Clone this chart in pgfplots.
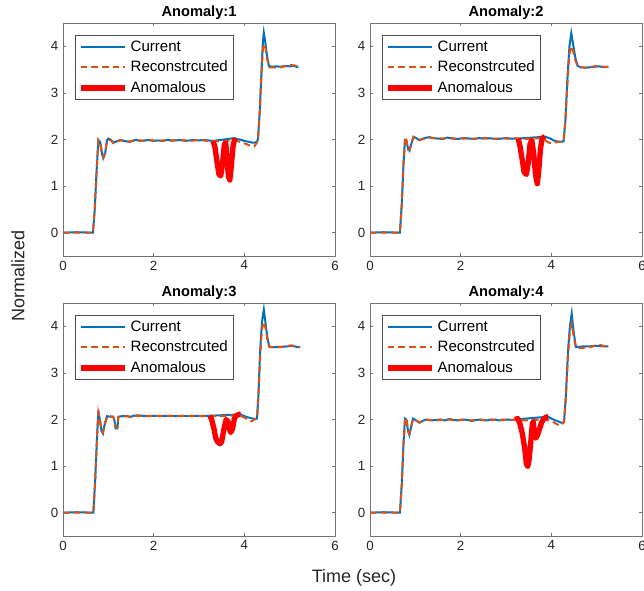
\documentclass[border=0pt]{standalone}
\usepackage{pgfplots}
\pgfplotsset{compat=1.18}
\usepackage{pgfplotstable}
\usepackage{fontspec}
\setmainfont{Liberation Sans}

\definecolor{mblue}{rgb}{0,0.447,0.741}
\definecolor{morange}{rgb}{0.851,0.325,0.098}
\definecolor{mred}{rgb}{1,0,0}

% ---------- panel 1 ----------
\pgfplotstableread{
x y
0 0
0.30 0.01
0.66 0
0.70 0.5
0.74 1.3
0.78 1.98
0.82 1.95
0.86 1.70
0.89 1.60
0.93 1.70
0.97 1.98
1.00 2.02
1.05 2.00
1.11 1.93
1.18 1.96
1.26 1.99
1.33 1.97
1.40 1.96
1.48 1.95
1.55 1.98
1.62 1.99
1.70 1.97
1.80 1.98
1.90 1.99
2.00 1.97
2.10 1.98
2.20 1.97
2.30 1.99
2.40 1.98
2.50 1.98
2.60 1.99
2.70 1.97
2.80 1.98
2.90 1.99
3.00 1.98
3.10 1.99
3.20 1.98
3.31 1.97
3.79 2.03
3.82 2.01
3.90 2.00
4.00 1.97
4.10 1.95
4.19 1.93
4.27 1.94
4.30 2.00
4.34 2.60
4.38 3.50
4.41 4.10
4.43 4.29
4.46 4.10
4.50 3.80
4.54 3.58
4.60 3.56
4.70 3.57
4.80 3.56
4.90 3.58
5.00 3.57
5.10 3.58
5.15 3.56
5.19 3.56
}\curA
\pgfplotstableread{
x y
0 0
0.30 0.0
0.66 0
0.70 0.5
0.74 1.3
0.78 1.99
0.82 1.93
0.86 1.68
0.89 1.62
0.93 1.72
0.97 1.97
1.00 2.00
1.05 1.99
1.11 1.92
1.18 1.95
1.26 1.98
1.33 1.98
1.40 1.95
1.48 1.96
1.55 1.97
1.62 1.98
1.70 1.98
1.80 1.97
1.90 1.98
2.00 1.98
2.10 1.97
2.20 1.98
2.30 1.98
2.40 1.97
2.50 1.99
2.60 1.98
2.70 1.98
2.80 1.97
2.90 1.98
3.00 1.99
3.10 1.98
3.20 1.97
3.31 1.97
3.45 1.96
3.60 1.97
3.75 1.98
3.85 1.97
3.95 1.93
4.05 1.90
4.15 1.86
4.22 1.85
4.30 1.97
4.34 2.60
4.38 3.45
4.41 3.95
4.44 4.05
4.47 3.95
4.50 3.75
4.55 3.55
4.62 3.55
4.70 3.54
4.80 3.55
4.90 3.57
5.00 3.60
5.10 3.59
5.19 3.56
}\recA
\pgfplotstableread{
x y
3.31 1.96
3.35 1.85
3.40 1.50
3.44 1.25
3.48 1.22
3.52 1.50
3.56 1.90
3.59 1.93
3.62 1.55
3.65 1.20
3.68 1.13
3.71 1.40
3.75 1.85
3.79 2.03
}\anoA

% ---------- panel 2 ----------
\pgfplotstableread{
x y
0 0
0.30 0.01
0.66 0
0.70 0.6
0.74 1.5
0.77 1.99
0.80 1.98
0.84 1.80
0.87 1.76
0.91 1.90
0.96 2.06
1.02 2.03
1.09 1.99
1.20 2.03
1.31 2.05
1.40 2.03
1.50 2.02
1.60 2.01
1.70 2.04
1.80 2.03
1.90 2.01
2.00 2.02
2.10 2.03
2.20 2.02
2.30 2.01
2.40 2.03
2.50 2.02
2.60 2.03
2.70 2.02
2.80 2.01
2.90 2.02
3.00 2.03
3.10 2.02
3.20 2.02
3.27 2.02
3.86 2.06
3.92 2.04
3.98 2.02
4.05 1.98
4.12 1.96
4.20 1.95
4.27 1.96
4.31 2.40
4.36 3.40
4.40 4.00
4.44 4.28
4.48 4.05
4.53 3.75
4.58 3.58
4.65 3.55
4.75 3.54
4.85 3.55
4.95 3.56
5.05 3.57
5.15 3.55
5.26 3.56
}\curB
\pgfplotstableread{
x y
0 0
0.30 0.0
0.66 0
0.70 0.6
0.74 1.5
0.78 2.06
0.81 1.96
0.84 1.78
0.87 1.78
0.91 1.92
0.96 2.05
1.02 2.02
1.09 1.98
1.20 2.02
1.31 2.04
1.40 2.03
1.50 2.03
1.60 2.02
1.70 2.03
1.80 2.02
1.90 2.02
2.00 2.03
2.10 2.02
2.20 2.01
2.30 2.02
2.40 2.02
2.50 2.03
2.60 2.02
2.70 2.01
2.80 2.02
2.90 2.03
3.00 2.02
3.10 2.02
3.20 2.03
3.27 2.02
3.40 2.01
3.60 2.02
3.80 2.03
3.88 1.97
3.95 1.93
4.05 1.92
4.12 1.95
4.20 1.95
4.27 1.96
4.31 2.40
4.36 3.30
4.40 3.85
4.44 4.00
4.48 3.90
4.53 3.70
4.58 3.58
4.65 3.55
4.75 3.54
4.85 3.55
4.95 3.57
5.05 3.58
5.15 3.56
5.26 3.56
}\recB
\pgfplotstableread{
x y
3.27 2.02
3.31 1.85
3.36 1.55
3.40 1.30
3.45 1.25
3.49 1.50
3.53 1.90
3.57 1.99
3.61 1.70
3.65 1.25
3.69 1.05
3.72 1.30
3.76 1.80
3.80 2.03
3.86 2.06
}\anoB

% ---------- panel 3 ----------
\pgfplotstableread{
x y
0 0
0.30 0.01
0.67 0
0.71 0.7
0.75 1.6
0.78 2.20
0.81 2.00
0.85 1.75
0.88 1.70
0.92 1.90
0.97 2.07
1.04 2.06
1.11 2.06
1.14 1.95
1.16 1.81
1.20 1.81
1.22 2.06
1.30 2.07
1.40 2.08
1.48 2.05
1.55 2.08
1.65 2.09
1.75 2.08
1.85 2.07
1.95 2.08
2.05 2.08
2.15 2.07
2.25 2.08
2.35 2.08
2.45 2.07
2.55 2.08
2.65 2.08
2.75 2.07
2.85 2.08
2.95 2.08
3.05 2.07
3.15 2.08
3.24 2.08
3.92 2.11
3.98 2.08
4.06 2.05
4.15 2.03
4.22 2.01
4.28 2.02
4.31 2.50
4.35 3.50
4.39 4.10
4.43 4.36
4.47 4.05
4.51 3.75
4.55 3.56
4.65 3.55
4.75 3.56
4.85 3.56
4.95 3.57
5.05 3.58
5.15 3.56
5.23 3.55
}\curC
\pgfplotstableread{
x y
0 0
0.30 0.0
0.67 0
0.71 0.7
0.75 1.6
0.78 2.15
0.81 2.02
0.85 1.78
0.88 1.72
0.92 1.88
0.97 2.06
1.04 2.07
1.11 2.05
1.14 1.96
1.16 1.83
1.20 1.83
1.22 2.05
1.30 2.06
1.40 2.07
1.48 2.06
1.55 2.07
1.65 2.08
1.75 2.08
1.85 2.08
1.95 2.07
2.05 2.08
2.15 2.08
2.25 2.07
2.35 2.08
2.45 2.08
2.55 2.07
2.65 2.08
2.75 2.08
2.85 2.07
2.95 2.08
3.05 2.08
3.15 2.07
3.24 2.08
3.40 2.07
3.60 2.08
3.80 2.09
3.92 2.08
4.00 2.04
4.10 1.99
4.16 1.96
4.22 2.00
4.28 2.02
4.31 2.50
4.35 3.40
4.39 3.95
4.43 4.10
4.47 3.95
4.51 3.72
4.55 3.56
4.65 3.55
4.75 3.55
4.85 3.56
4.95 3.58
5.05 3.59
5.15 3.57
5.23 3.55
}\recC
\pgfplotstableread{
x y
3.24 2.08
3.28 2.00
3.33 1.80
3.37 1.60
3.41 1.52
3.46 1.48
3.50 1.52
3.55 1.80
3.60 2.00
3.64 1.95
3.67 1.80
3.70 1.72
3.74 1.80
3.78 2.02
3.82 2.08
3.88 2.11
3.92 2.11
}\anoC

% ---------- panel 4 ----------
\pgfplotstableread{
x y
0 0
0.30 0.01
0.66 0
0.70 0.6
0.74 1.5
0.77 2.02
0.80 2.00
0.84 1.75
0.87 1.67
0.91 1.85
0.95 2.02
1.02 1.98
1.09 1.93
1.16 1.97
1.24 2.00
1.35 1.98
1.45 1.99
1.55 2.00
1.65 1.98
1.75 2.01
1.85 1.99
1.95 1.98
2.05 2.00
2.15 1.99
2.25 1.97
2.35 1.99
2.45 2.00
2.55 1.98
2.65 1.99
2.75 2.00
2.85 1.98
2.95 1.99
3.05 2.00
3.12 1.99
3.20 2.00
3.93 2.06
3.98 2.03
4.07 1.99
4.15 1.96
4.22 1.93
4.28 1.94
4.32 2.50
4.37 3.50
4.41 4.00
4.45 4.27
4.49 3.90
4.54 3.56
4.62 3.56
4.72 3.57
4.85 3.57
4.95 3.58
5.05 3.58
5.15 3.57
5.26 3.57
}\curD
\pgfplotstableread{
x y
0 0
0.30 0.0
0.66 0
0.70 0.6
0.74 1.5
0.78 2.04
0.81 1.98
0.84 1.74
0.87 1.70
0.91 1.86
0.95 2.01
1.02 1.97
1.09 1.94
1.16 1.96
1.24 1.99
1.35 1.99
1.45 1.98
1.55 1.99
1.65 1.99
1.75 2.00
1.85 1.98
1.95 1.99
2.05 1.99
2.15 1.98
2.25 1.98
2.35 2.00
2.45 1.99
2.55 1.98
2.65 2.00
2.75 1.99
2.85 1.99
2.95 2.00
3.05 1.99
3.12 1.99
3.20 2.00
3.40 1.98
3.60 1.99
3.80 2.00
3.95 1.98
4.05 1.94
4.12 1.90
4.20 1.87
4.28 1.94
4.32 2.45
4.37 3.40
4.41 3.90
4.45 4.05
4.49 3.80
4.54 3.55
4.62 3.53
4.72 3.54
4.85 3.55
4.95 3.58
5.05 3.61
5.15 3.58
5.26 3.57
}\recD
\pgfplotstableread{
x y
3.20 2.00
3.26 2.02
3.31 1.90
3.36 1.70
3.41 1.40
3.45 1.05
3.48 0.99
3.51 1.15
3.55 1.55
3.58 1.90
3.60 1.95
3.63 1.70
3.66 1.60
3.70 1.68
3.74 1.80
3.78 1.92
3.82 2.00
3.88 2.05
3.93 2.06
}\anoD

\pgfplotsset{
  every axis title/.style={
    at={(0.5,1)}, anchor=base, yshift=4.5pt, inner sep=0pt,
    font=\bfseries\fontsize{11}{13}\selectfont},
  panel/.style={
    scale only axis,
    width=204pt, height=174.75pt,
    xmin=0, xmax=6, ymin=-0.5, ymax=4.5,
    xtick={0,2,4,6}, ytick={0,1,2,3,4},
    tick align=inside,
    major tick length=2.5pt,
    axis line style={draw=black!55, line width=0.5pt},
    tick style={draw=black!55, line width=0.5pt},
    /pgf/number format/assume math mode=true,
    ticklabel style={font=\fontsize{10}{12}\selectfont, text=black!85},
    legend style={
      at={(0.044,0.948)}, anchor=north west,
      draw=black!70, line width=0.5pt,
      font=\fontsize{11.3}{13}\selectfont,
      inner xsep=2pt, inner ysep=2pt,
      row sep=1.75pt,
      cells={anchor=west},
    },
    legend image code/.code={\draw[line cap=butt, ##1] (0pt,0pt) -- (33.5pt,0pt);},
  },
  cur/.style={mblue, line width=1.5pt},
  rec/.style={morange, line width=1.5pt, dash pattern=on 5pt off 3pt},
  ano/.style={mred, line width=4pt, line join=round},
}

\begin{document}
\begin{tikzpicture}
\useasboundingbox (0,0) rectangle (483pt,443.25pt);

\begin{axis}[panel, at={(47.25pt,251.25pt)}, anchor=south west, title={Anomaly:1}]
\addplot[cur] table {\curA};
\addplot[rec] table {\recA};
\addplot[ano] table {\anoA};
\legend{Current, Reconstrcuted, Anomalous}
\end{axis}

\begin{axis}[panel, at={(277.5pt,251.25pt)}, anchor=south west, title={Anomaly:2}]
\addplot[cur] table {\curB};
\addplot[rec] table {\recB};
\addplot[ano] table {\anoB};
\legend{Current, Reconstrcuted, Anomalous}
\end{axis}

\begin{axis}[panel, at={(47.25pt,41.25pt)}, anchor=south west, title={Anomaly:3}]
\addplot[cur] table {\curC};
\addplot[rec] table {\recC};
\addplot[ano] table {\anoC};
\legend{Current, Reconstrcuted, Anomalous}
\end{axis}

\begin{axis}[panel, at={(277.5pt,41.25pt)}, anchor=south west, title={Anomaly:4}]
\addplot[cur] table {\curD};
\addplot[rec] table {\recD};
\addplot[ano] table {\anoD};
\legend{Current, Reconstrcuted, Anomalous}
\end{axis}

\node[rotate=90, font=\fontsize{13.5}{16}\selectfont, text=black!85] at (13.5pt,236pt) {Normalized};
\node[font=\fontsize{13.5}{16}\selectfont, text=black!85] at (265.5pt,9.75pt) {Time (sec)};
\end{tikzpicture}
\end{document}
